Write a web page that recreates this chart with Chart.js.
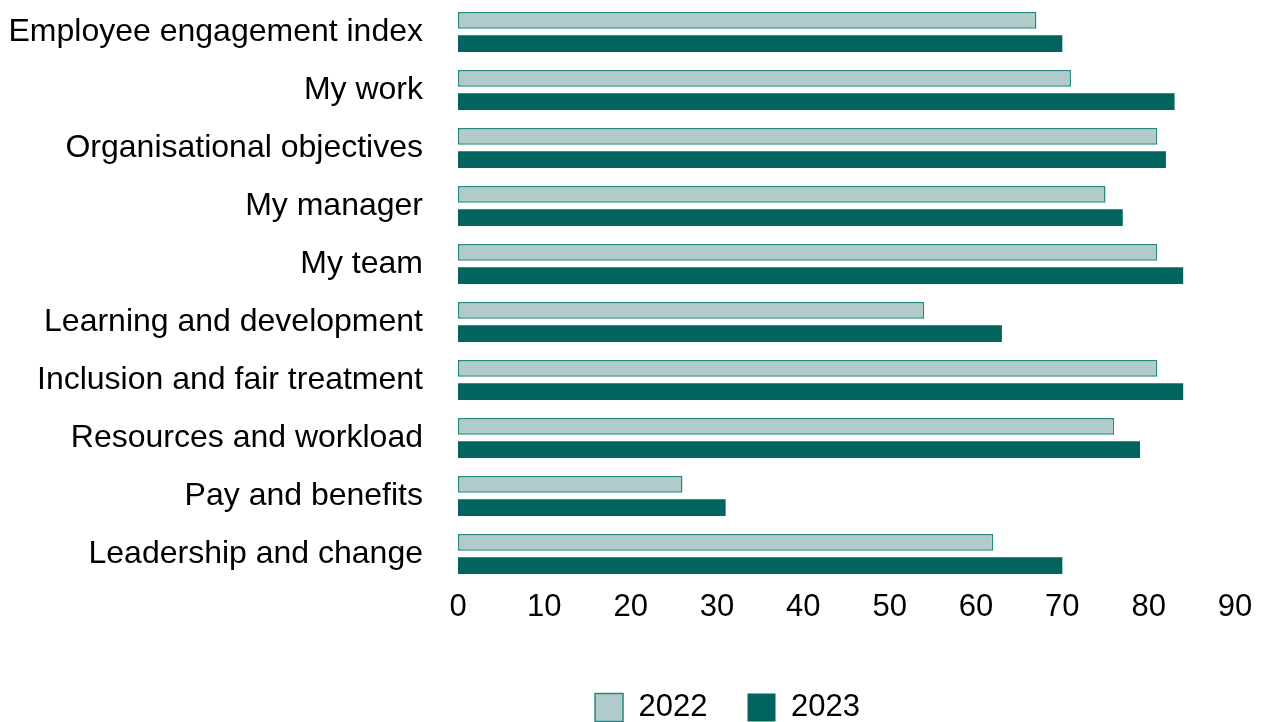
<!DOCTYPE html>
<html>
<head>
<meta charset="utf-8">
<script src="https://cdn.jsdelivr.net/npm/chart.js@4"></script>
<style>
  html, body { margin: 0; padding: 0; background: #fff; }
  #wrap { width: 1263px; height: 722px; }
</style>
</head>
<body>
<div id="wrap"><canvas id="surveyChart"></canvas></div>
<script>
const categories = [
    'Employee engagement index',
    'My work',
    'Organisational objectives',
    'My manager',
    'My team',
    'Learning and development',
    'Inclusion and fair treatment',
    'Resources and workload',
    'Pay and benefits',
    'Leadership and change'
];
const scores2022 = [67, 71, 81, 75, 81, 54, 81, 76, 26, 62];
const scores2023 = [70, 83, 82, 77, 84, 63, 84, 79, 31, 70];
const xTicks = [0, 10, 20, 30, 40, 50, 60, 70, 80, 90];

// legend sits a bit lower and right of where Chart.js centres it
const legendNudge = {
    id: 'legendNudge',
    beforeInit(chart) {
        const origFit = chart.legend.fit;
        chart.legend.fit = function () {
            origFit.call(this);
            this.height -= 11;
        };
    },
    afterUpdate(chart) {
        chart.legend.left += 110;
        chart.legend.right += 110;
    }
};

document.addEventListener('DOMContentLoaded', function () {
    const canvas = document.getElementById('surveyChart');
    Chart.defaults.font.family = '"Liberation Sans", Arial, sans-serif';
    Chart.defaults.color = '#000';

    new Chart(canvas, {
        type: 'bar',
        data: {
            labels: categories,
            datasets: [{
                label: '2022',
                data: scores2022,
                backgroundColor: '#b0cbca',
                borderColor: '#25897f',
                borderWidth: 1.5,
                borderSkipped: false,
                categoryPercentage: 0.8,
                barPercentage: 0.72
            }, {
                label: '2023',
                data: scores2023,
                backgroundColor: '#01645e',
                borderWidth: 0,
                categoryPercentage: 0.8,
                barPercentage: 0.72
            }]
        },
        options: {
            indexAxis: 'y',
            responsive: true,
            maintainAspectRatio: false,
            animation: false,
            layout: { padding: { top: 3, right: 28, left: 0, bottom: 0 } },
            scales: {
                x: {
                    min: 0,
                    max: 90,
                    afterBuildTicks: (axis) => { axis.ticks = xTicks.map(v => ({ value: v })); },
                    afterFit: (axis) => { axis.height = 69; },
                    grid: { display: false, drawTicks: false },
                    border: { display: false },
                    ticks: { font: { size: 31 }, padding: 6, maxRotation: 0 }
                },
                y: {
                    afterFit: (axis) => {
                        axis.width = 458;
                        axis.paddingTop = 0;
                        axis.paddingBottom = 0;
                    },
                    grid: { display: false, drawTicks: false },
                    border: { display: false },
                    ticks: { font: { size: 32 }, padding: 35 }
                }
            },
            plugins: {
                legend: {
                    position: 'bottom',
                    labels: {
                        font: { size: 31 },
                        boxWidth: 28,
                        boxHeight: 28,
                        padding: 40
                    }
                },
                tooltip: { enabled: false }
            }
        },
        plugins: [legendNudge]
    });
});
</script>
</body>
</html>
